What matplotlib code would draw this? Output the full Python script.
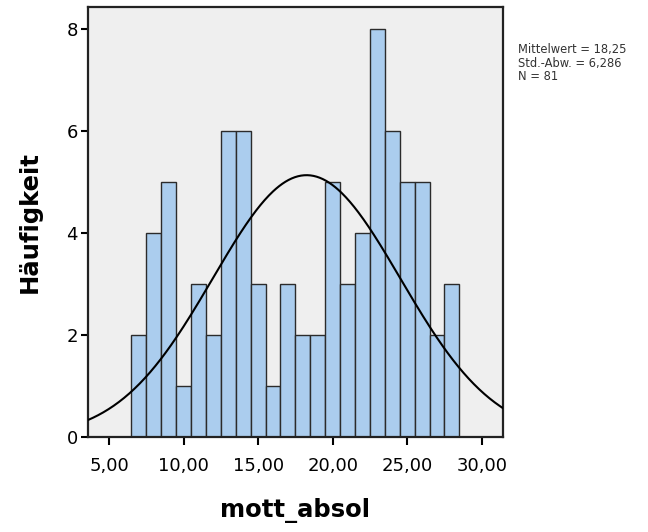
import numpy as np
import matplotlib

matplotlib.use("Agg")
import matplotlib.pyplot as plt  # noqa: E402
from matplotlib.ticker import FuncFormatter  # noqa: E402

# histogram data (bins of width 1, first bin starts at 6.5)
bin_start = 6.5
bin_width = 1.0
counts = [2, 4, 5, 1, 3, 2, 6, 6, 3, 1, 3, 2, 2, 5, 3, 4, 8, 6, 5, 5, 2, 3]

mean = 18.25
std = 6.286
n_obs = 81

x_ticks = [5, 10, 15, 20, 25, 30]
y_ticks = [0, 2, 4, 6, 8]

C_BAR = "#abcdee"
C_EDGE = "#2b2b2b"
C_BG = "#efefef"


def de(v, nd):
    """German decimal comma."""
    return f"{v:.{nd}f}".replace(".", ",")


plt.rcParams["font.family"] = ["DejaVu Sans"]

fig = plt.figure(figsize=(6.48, 5.32), dpi=100)
ax = fig.add_axes([0.1353, 0.178, 0.641, 0.808])
ax.set_facecolor(C_BG)

edges = bin_start + bin_width * np.arange(len(counts))
ax.bar(edges, counts, width=bin_width, align="edge", color=C_BAR,
       edgecolor=C_EDGE, linewidth=1.0, zorder=2)

xmin, xmax = 3.57, 31.43
xs = np.linspace(xmin, xmax, 400)
pdf = np.exp(-0.5 * ((xs - mean) / std) ** 2) / (std * np.sqrt(2 * np.pi))
ax.plot(xs, pdf * n_obs * bin_width, color="black", lw=1.5, zorder=3)

ax.set_xlim(xmin, xmax)
ax.set_ylim(0, 8.43)
ax.set_xticks(x_ticks)
ax.set_yticks(y_ticks)
ax.xaxis.set_major_formatter(FuncFormatter(lambda v, p: de(v, 2)))
ax.tick_params(axis="both", direction="out", width=1.5, length=5, labelsize=13,
               colors="black", pad=2)
ax.tick_params(axis="x", length=6, pad=8)
for s in ax.spines.values():
    s.set_linewidth(1.6)
    s.set_color("#222222")

ax.set_xlabel("mott_absol", fontsize=17.5, fontweight="bold", labelpad=17)
ax.set_ylabel("Häufigkeit", fontsize=17.5, fontweight="bold", labelpad=18)

fig.text(518 / 648, 1 - 43 / 532,
         f"Mittelwert = {de(mean, 2)}\nStd.-Abw. = {de(std, 3)}\nN = {n_obs}",
         fontsize=8.3, va="top", ha="left", color="#333333", linespacing=1.05)

fig.savefig("out.png", dpi=100)
